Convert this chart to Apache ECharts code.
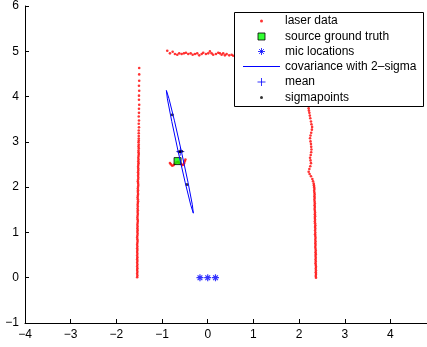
<!DOCTYPE html>
<html>
<head>
<meta charset="utf-8">
<script src="https://cdn.jsdelivr.net/npm/echarts@6/dist/echarts.min.js"></script>
<style>html,body{margin:0;padding:0;background:#fff}#c{width:427px;height:347px}</style>
</head>
<body>
<div id="c"></div>
<script>
// ---- data ----
const xTicks = [-4, -3, -2, -1, 0, 1, 2, 3, 4];
const yTicks = [-1, 0, 1, 2, 3, 4, 5, 6];

const leftWallSparse = [[-1.50,4.63],[-1.50,4.49],[-1.50,4.35],[-1.505,4.24],[-1.50,4.13],[-1.505,4.02],[-1.505,3.93],[-1.50,3.82],[-1.505,3.73],[-1.505,3.64],[-1.51,3.56],[-1.505,3.47],[-1.51,3.40],[-1.505,3.32],[-1.51,3.25],[-1.51,3.19],[-1.51,3.13],[-1.51,3.075],[-1.51,3.03],[-1.515,2.99],[-1.51,2.94],[-1.515,2.90],[-1.51,2.855],[-1.515,2.81]];
const leftWallDense = [[-1.515,2.77],[-1.51,2.73],[-1.515,2.69],[-1.52,2.65],[-1.515,2.61],[-1.52,2.57],[-1.515,2.53],[-1.52,2.49],[-1.525,2.45],[-1.52,2.41],[-1.52,2.37],[-1.525,2.33],[-1.52,2.29],[-1.525,2.25],[-1.52,2.21],[-1.525,2.17],[-1.53,2.13],[-1.525,2.09],[-1.52,2.05],[-1.525,2.01],[-1.53,1.97],[-1.525,1.93],[-1.53,1.89],[-1.525,1.85],[-1.53,1.81],[-1.535,1.77],[-1.53,1.73],[-1.525,1.69],[-1.53,1.65],[-1.535,1.61],[-1.53,1.57],[-1.535,1.53],[-1.53,1.49],[-1.535,1.45],[-1.53,1.41],[-1.535,1.37],[-1.54,1.33],[-1.535,1.29],[-1.53,1.25],[-1.535,1.21],[-1.54,1.17],[-1.535,1.13],[-1.54,1.09],[-1.535,1.05],[-1.54,1.01],[-1.535,0.97],[-1.54,0.93],[-1.545,0.89],[-1.54,0.85],[-1.535,0.81],[-1.54,0.77],[-1.545,0.73],[-1.54,0.69],[-1.545,0.65],[-1.54,0.61],[-1.545,0.57],[-1.54,0.53],[-1.545,0.49],[-1.54,0.45],[-1.545,0.41],[-1.54,0.37],[-1.545,0.33],[-1.54,0.29],[-1.545,0.25],[-1.54,0.21],[-1.545,0.17],[-1.54,0.13],[-1.545,0.09],[-1.54,0.05],[-1.545,0.01]];
const topWall = [[-0.886,5.013],[-0.827,4.954],[-0.768,4.991],[-0.718,4.94],[-0.667,4.925],[-0.624,4.954],[-0.571,4.94],[-0.521,4.954],[-0.477,4.969],[-0.427,4.94],[-0.374,4.954],[-0.33,4.925],[-0.28,4.94],[-0.23,4.954],[-0.186,4.91],[-0.133,4.94],[-0.098,4.969],[-0.04,4.94],[0.011,4.954],[0.048,4.998],[0.085,4.954],[0.12,4.925],[0.18,4.94],[0.23,4.969],[0.267,4.954],[0.304,4.925],[0.339,4.954],[0.376,4.91],[0.414,4.94],[0.47,4.91],[0.523,4.925],[0.558,4.903]];
const rightWallSparse = [[2.21,3.74],[2.215,3.69],[2.225,3.64],[2.235,3.58],[2.245,3.52],[2.26,3.45],[2.27,3.39],[2.285,3.33],[2.28,3.27],[2.265,3.20],[2.25,3.14],[2.24,3.08],[2.25,3.01],[2.26,2.95],[2.265,2.89],[2.27,2.83],[2.265,2.77],[2.255,2.71],[2.24,2.65],[2.25,2.59],[2.26,2.53],[2.245,2.46],[2.225,2.40],[2.21,2.34],[2.23,2.29],[2.26,2.24],[2.29,2.18],[2.305,2.13],[2.32,2.08]];
const rightWallDense = [[2.325,2.04],[2.33,2.00],[2.335,1.96],[2.33,1.92],[2.335,1.88],[2.34,1.84],[2.335,1.80],[2.34,1.76],[2.335,1.72],[2.34,1.68],[2.345,1.64],[2.34,1.60],[2.345,1.56],[2.34,1.52],[2.345,1.48],[2.35,1.44],[2.345,1.40],[2.35,1.36],[2.345,1.32],[2.35,1.28],[2.345,1.24],[2.35,1.20],[2.355,1.16],[2.35,1.12],[2.355,1.08],[2.35,1.04],[2.355,1.00],[2.35,0.96],[2.355,0.92],[2.36,0.88],[2.355,0.84],[2.36,0.80],[2.355,0.76],[2.36,0.72],[2.355,0.68],[2.36,0.64],[2.365,0.60],[2.36,0.56],[2.365,0.52],[2.36,0.48],[2.365,0.44],[2.36,0.40],[2.365,0.36],[2.36,0.32],[2.365,0.28],[2.37,0.24],[2.365,0.20],[2.37,0.16],[2.365,0.12],[2.37,0.08],[2.365,0.04],[2.37,0.00]];
const personScan = [[-0.827,2.531],[-0.805,2.502],[-0.777,2.474],[-0.746,2.487],[-0.718,2.518],[-0.685,2.546],[-0.652,2.557],[-0.619,2.535],[-0.586,2.513],[-0.558,2.487],[-0.532,2.498],[-0.514,2.531],[-0.499,2.575],[-0.488,2.612]];

const sourceTruth = [[-0.66, 2.575]];
const micLocations = [[-0.17, 0], [0, 0], [0.17, 0]];
const covarianceEllipse = [[-0.315,1.425],[-0.337,1.611],[-0.432,2.109],[-0.576,2.787],[-0.728,3.464],[-0.849,3.957],[-0.905,4.135],[-0.883,3.949],[-0.787,3.451],[-0.644,2.772],[-0.492,2.096],[-0.371,1.603],[-0.315,1.425]];
const meanPoint = [[-0.6, 2.785]];
const sigmaPoints = [[-0.6, 2.785], [-0.775, 3.597], [-0.455, 2.06], [-0.57, 2.79], [-0.63, 2.78]];

const seriesNames = ['laser data', 'source ground truth', 'mic locations', 'covariance with 2\u2013sigma', 'mean', 'sigmapoints'];

// ---- styling ----
const FONT = "'Liberation Sans', Arial, Helvetica, sans-serif";
const ASTERISK = 'path://M0,5L10,5M5,0L5,10M1.6,1.6L8.4,8.4M1.6,8.4L8.4,1.6';
const PLUS = 'path://M0,5L10,5M5,0L5,10';
const SQUARE = 'path://M0,0L10,0L10,10L0,10Z';
const fmtMinus = v => String(v).replace('-', '\u2212');

const laserData = [].concat(leftWallSparse, leftWallDense, topWall, rightWallSparse, rightWallDense, personScan);

// legend rows (layout)
const LEG_ICON_LEFT = 243, LEG_ICON_W = 37;
const legendIcons = [
  {icon: 'circle', h: 3, w: 3, itemStyle: {color: '#ff0000', borderWidth: 0}},
  {icon: SQUARE, h: 7, w: 8, itemStyle: {color: '#00ff00', borderColor: '#000', borderWidth: 1}},
  {icon: ASTERISK, h: 7, w: 8, itemStyle: {color: 'rgba(0,0,0,0)', borderColor: '#0000ff', borderWidth: 1}},
  {icon: 'rect', h: 1, w: 37, itemStyle: {color: '#0000ff', borderWidth: 0}},
  {icon: PLUS, h: 8, w: 9, itemStyle: {color: 'rgba(0,0,0,0)', borderColor: '#0000ff', borderWidth: 1}},
  {icon: 'circle', h: 3, w: 3, itemStyle: {color: '#000', borderWidth: 0}}
];
const legendRowY = [21, 36.5, 51.5, 66.5, 82, 97.5];

const legends = seriesNames.map((n, i) => ({
  data: [{name: n, icon: legendIcons[i].icon, itemStyle: legendIcons[i].itemStyle}],
  left: LEG_ICON_LEFT + (LEG_ICON_W - legendIcons[i].w) / 2, top: legendRowY[i] - 6,
  itemWidth: LEG_ICON_W, itemHeight: legendIcons[i].h, itemGap: 0,
  padding: 0, selectedMode: false, symbolKeepAspect: true,
  textStyle: {fontFamily: FONT, fontSize: 12, color: '#000', lineHeight: 12, padding: [0, 0, 0, 0]},
  z: 10
}));

const chart = echarts.init(document.getElementById('c'), null, {renderer: 'canvas'});
chart.setOption({
  animation: false,
  backgroundColor: '#fff',
  grid: {left: 25, right: 0, top: 5, bottom: 24, containLabel: false},
  xAxis: {
    type: 'value', min: -4, max: 4.8,
    axisLine: {onZero: false, lineStyle: {color: '#000', width: 1}},
    axisTick: {inside: true, length: 4, lineStyle: {color: '#000'}, customValues: xTicks},
    axisLabel: {color: '#000', fontFamily: FONT, fontSize: 12, margin: 6, customValues: xTicks, formatter: fmtMinus},
    splitLine: {show: false}
  },
  yAxis: {
    type: 'value', min: -1, max: 6, interval: 1,
    axisLine: {onZero: false, lineStyle: {color: '#000', width: 1}},
    axisTick: {inside: true, length: 4, lineStyle: {color: '#000'}, customValues: yTicks},
    axisLabel: {color: '#000', fontFamily: FONT, fontSize: 12, margin: 6, customValues: yTicks, formatter: fmtMinus},
    splitLine: {show: false}
  },
  legend: legends,
  graphic: [{
    type: 'rect', z: 5, silent: true,
    shape: {x: 234.5, y: 12.5, width: 189, height: 94},
    style: {fill: '#fff', stroke: '#000', lineWidth: 1}
  }],
  series: [
    {name: seriesNames[0], type: 'scatter', data: laserData, symbol: 'circle', symbolSize: 2.6,
     itemStyle: {color: '#ff0000'}, silent: true},
    {name: seriesNames[1], type: 'scatter', data: sourceTruth, symbol: SQUARE, symbolSize: 7, symbolKeepAspect: true,
     itemStyle: {color: '#00ff00', borderColor: '#000', borderWidth: 1}, silent: true},
    {name: seriesNames[2], type: 'scatter', data: micLocations, symbol: ASTERISK, symbolSize: 7, symbolKeepAspect: true,
     itemStyle: {color: 'rgba(0,0,0,0)', borderColor: '#0000ff', borderWidth: 1.2}, silent: true},
    {name: seriesNames[3], type: 'line', data: covarianceEllipse, symbol: 'none', showSymbol: false,
     lineStyle: {color: '#0000ff', width: 1}, itemStyle: {color: '#0000ff'}, silent: true},
    {name: seriesNames[4], type: 'scatter', data: meanPoint, symbol: PLUS, symbolSize: 8, symbolKeepAspect: true,
     itemStyle: {color: 'rgba(0,0,0,0)', borderColor: '#0000ff', borderWidth: 1}, silent: true},
    {name: seriesNames[5], type: 'scatter', data: sigmaPoints, symbol: 'circle', symbolSize: 3,
     itemStyle: {color: '#000'}, silent: true}
  ]
});
</script>
</body>
</html>
